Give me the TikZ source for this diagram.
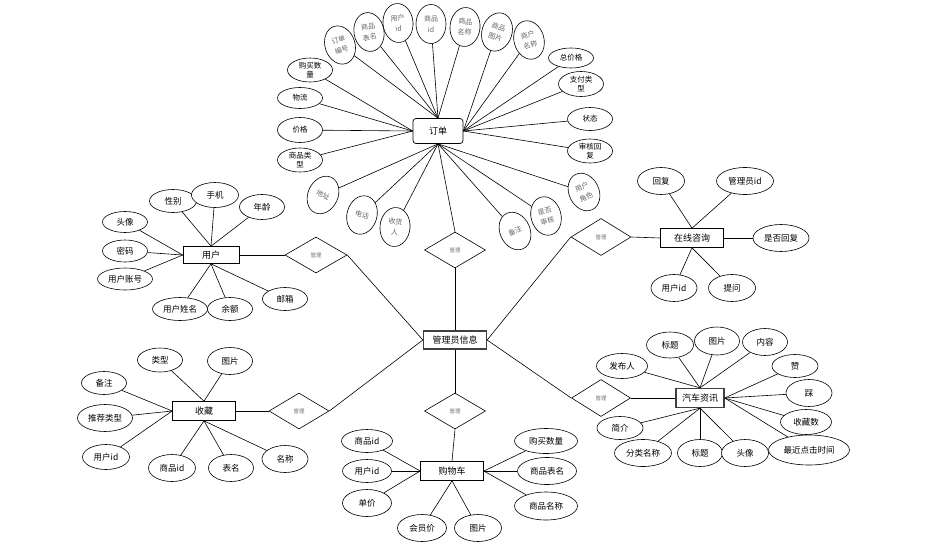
\documentclass[tikz,border=0pt]{standalone}
\usepackage{fontspec}
\setmainfont{Noto Sans CJK SC}
\usetikzlibrary{shapes.geometric}
\begin{document}
\begin{tikzpicture}[x=1pt,y=-1pt,
  every node/.style={inner sep=0pt},
  attr/.style 2 args={ellipse,draw,fill=white,line width=0.6pt,minimum width=#1pt,minimum height=#2pt,font=\fontsize{8.5}{9}\selectfont,align=center},
  oattr/.style={ellipse,draw,fill=white,line width=0.6pt,minimum width=30pt,minimum height=39pt,font=\fontsize{7}{10.5}\selectfont,text=black!60,align=center,rotate=#1},
  hattr/.style 2 args={ellipse,draw,fill=white,line width=0.6pt,minimum width=#1pt,minimum height=#2pt,font=\fontsize{7.5}{9.5}\selectfont,align=center},
  ent/.style 2 args={rectangle,draw,fill=white,line width=0.7pt,minimum width=#1pt,minimum height=#2pt,font=\fontsize{9}{10}\selectfont},
  ment/.style 2 args={rectangle,draw=black!75,fill=white,line width=1.3pt,minimum width=#1pt,minimum height=#2pt,font=\fontsize{9}{10}\selectfont},
  rel/.style={diamond,draw,fill=white,line width=0.6pt,minimum width=61pt,minimum height=36pt,font=\fontsize{5.5}{6}\selectfont,text=black!55},
  ln/.style={line width=0.6pt}]
\useasboundingbox (0,0) rectangle (925,546);

% ---------- main entities ----------
\node[ment={63}{18}] (admin) at (455,340) {管理员信息};
\node[ent={50}{25},rounded corners=3pt] (order) at (438,131) {订单};
\node[ent={56}{17}] (user) at (211,255) {用户};
\node[ent={63}{19}] (consult) at (692,238) {在线咨询};
\node[ent={63}{19}] (fav) at (204,411) {收藏};
\node[ent={63}{19}] (cart) at (452,471) {购物车};
\node[ment={48}{19}] (car) at (700,398) {汽车资讯};

% ---------- relations ----------
\node[rel,minimum width=62pt] (d1) at (316,255) {管理};
\node[rel,minimum width=60pt] (d2) at (299,411) {管理};
\node[rel] (d3) at (455,250) {管理};
\node[rel] (d4) at (455,411) {管理};
\node[rel,minimum width=60pt,minimum height=37pt] (d5) at (601,237) {管理};
\node[rel,minimum width=59pt,minimum height=37pt] (d6) at (601,398) {管理};

\draw[ln] (user.east) -- (d1.west);
\draw[ln] (d1.east) -- (admin.west);
\draw[ln] (fav.east) -- (d2.west);
\draw[ln] (d2.east) -- (admin.west);
\draw[ln] (order.south) -- (d3.north);
\draw[ln] (d3.south) -- (admin.north);
\draw[ln] (admin.south) -- (d4.north);
\draw[ln] (d4.south) -- (cart.north);
\draw[ln] (admin.east) -- (d5.west);
\draw[ln] (d5.east) -- (consult.west);
\draw[ln] (admin.east) -- (d6.west);
\draw[ln] (d6.east) -- (car.west);

% ---------- order attributes ----------
\node[oattr=18] (o1) at (340,45) {订单\\编号};
\node[oattr=10] (o2) at (369,32) {商品\\表名};
\node[oattr=5] (o3) at (398,23) {用户\\id};
\node[oattr=0] (o4) at (431,24) {商品\\id};
\node[oattr=-5] (o5) at (465,27) {商品\\名称};
\node[oattr=-18] (o6) at (497,32) {商品\\图片};
\node[oattr=15] (o7) at (529,40) {商户\\名称};
\node[hattr={45}{20}] (o8) at (571,58) {总价格};
\node[hattr={45}{25}] (o9) at (581,84) {支付类\\型};
\node[hattr={45}{23}] (o10) at (590,119) {状态};
\node[hattr={45}{24}] (o11) at (590,151) {审核回\\复};
\node[oattr=25] (o12) at (584,192) {用户\\角色};
\node[oattr=15] (o13) at (546,216) {是否\\审核};
\node[oattr=25] (o14) at (515,231) {备注};
\node[oattr=-5] (o15) at (395,227) {收货\\人};
\node[oattr=-15] (o16) at (362,215) {电话};
\node[oattr=-25] (o17) at (323,195) {地址};
\node[hattr={45}{24}] (o18) at (300,160) {商品类\\型};
\node[hattr={45}{25}] (o19) at (300,130) {价格};
\node[hattr={45}{21}] (o20) at (300,98) {物流};
\node[hattr={45}{24}] (o21) at (310,70) {购买数\\量};
\foreach \n in {o1,o2,o3,o4,o5} \draw[ln] (order.north) -- (\n);
\foreach \n in {o6,o7,o8,o9,o10,o11} \draw[ln] (order.east) -- (\n);
\foreach \n in {o12,o13,o14,o15,o16,o17} \draw[ln] (order.south) -- (\n);
\foreach \n in {o18,o19,o20,o21} \draw[ln] (order.west) -- (\n);

% ---------- user attributes ----------
\node[attr={47}{23}] (u1) at (173,201) {性别};
\node[attr={47}{25}] (u2) at (215,195) {手机};
\node[attr={45}{25}] (u3) at (262,207) {年龄};
\node[attr={45}{21}] (u4) at (125,222) {头像};
\node[attr={45}{22}] (u5) at (125,251) {密码};
\node[attr={55}{22}] (u6) at (125,279) {用户账号};
\node[attr={55}{23}] (u7) at (180,309) {用户姓名};
\node[attr={45}{23}] (u8) at (230,309) {余额};
\node[attr={45}{23}] (u9) at (285,299) {邮箱};
\foreach \n in {u1,u2,u3} \draw[ln] (user.north) -- (\n);
\foreach \n in {u4,u5,u6} \draw[ln] (user.west) -- (\n);
\foreach \n in {u7,u8,u9} \draw[ln] (user.south) -- (\n);

% ---------- consult attributes ----------
\node[attr={47}{27}] (c1) at (661,181) {回复};
\node[attr={57}{27}] (c2) at (745,181) {管理员id};
\node[attr={56}{27}] (c3) at (781,238) {是否回复};
\node[attr={46}{27}] (c4) at (674,288) {用户id};
\node[attr={47}{27}] (c5) at (732,288) {提问};
\foreach \n in {c1,c2} \draw[ln] (consult.north) -- (\n);
\draw[ln] (consult.east) -- (c3);
\foreach \n in {c4,c5} \draw[ln] (consult.south) -- (\n);

% ---------- favourites attributes ----------
\node[attr={45}{24}] (f1) at (160,360) {类型};
\node[attr={45}{27}] (f2) at (230,361) {图片};
\node[attr={45}{23}] (f3) at (104,383) {备注};
\node[attr={55}{27}] (f4) at (105,418) {推荐类型};
\node[attr={47}{25}] (f5) at (106,457) {用户id};
\node[attr={47}{27}] (f6) at (172,468) {商品id};
\node[attr={45}{27}] (f7) at (231,468) {表名};
\node[attr={46}{27}] (f8) at (285,459) {名称};
\foreach \n in {f1,f2} \draw[ln] (fav.north) -- (\n);
\foreach \n in {f3,f4,f5} \draw[ln] (fav.west) -- (\n);
\foreach \n in {f6,f7,f8} \draw[ln] (fav.south) -- (\n);

% ---------- cart attributes ----------
\node[attr={51}{23}] (k1) at (367,441) {商品id};
\node[attr={49}{23}] (k2) at (367,471) {用户id};
\node[attr={49}{27}] (k3) at (367,503) {单价};
\node[attr={49}{27}] (k4) at (422,528) {会员价};
\node[attr={47}{27}] (k5) at (478,528) {图片};
\node[attr={63}{25}] (k6) at (546,441) {购买数量};
\node[attr={59}{27}] (k7) at (547,471) {商品表名};
\node[attr={63}{28}] (k8) at (546,506) {商品名称};
\foreach \n in {k1,k2,k3} \draw[ln] (cart.west) -- (\n);
\foreach \n in {k4,k5} \draw[ln] (cart.south) -- (\n);
\foreach \n in {k6,k7,k8} \draw[ln] (cart.east) -- (\n);

% ---------- car news attributes ----------
\node[attr={51}{25}] (n1) at (622,366) {发布人};
\node[attr={47}{26}] (n2) at (670,345) {标题};
\node[attr={45}{28}] (n3) at (717,341) {图片};
\node[attr={45}{27}] (n4) at (765,342) {内容};
\node[attr={46}{23}] (n5) at (795,366) {赞};
\node[attr={46}{27}] (n6) at (809,393) {踩};
\node[attr={51}{25}] (n7) at (806,422) {收藏数};
\node[attr={81}{30}] (n8) at (809,450) {最近点击时间};
\node[attr={46}{23}] (n9) at (620,428) {简介};
\node[attr={57}{27}] (n10) at (643,453) {分类名称};
\node[attr={45}{27}] (n11) at (700,453) {标题};
\node[attr={47}{27}] (n12) at (745,453) {头像};
\foreach \n in {n1,n2,n3,n4} \draw[ln] (car.north) -- (\n);
\foreach \n in {n5,n6,n7,n8} \draw[ln] (car.east) -- (\n);
\foreach \n in {n9,n10,n11,n12} \draw[ln] (car.south) -- (\n);
\end{tikzpicture}
\end{document}
